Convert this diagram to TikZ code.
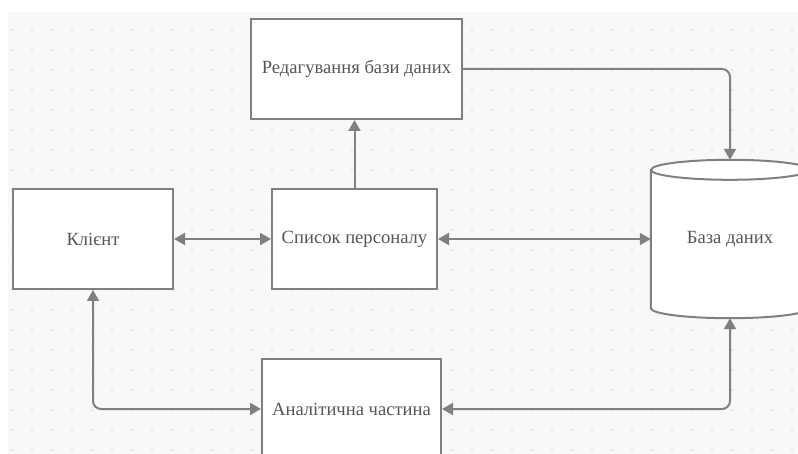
\documentclass[tikz,border=0pt]{standalone}
\usepackage{fontspec}
\setmainfont{Liberation Serif}
\usetikzlibrary{arrows.meta}
\definecolor{canvas}{HTML}{F8F8FA}
\definecolor{griddot}{HTML}{DDDDE0}
\definecolor{edge}{HTML}{808080}
\definecolor{label}{HTML}{555555}
\tikzset{
  block/.style={draw=edge, line width=2pt, fill=white, text=label,
    font=\fontsize{18.6}{22}\selectfont, inner sep=0pt},
  link/.style={draw=edge, line width=2pt, rounded corners=8pt,
    -{Triangle[length=11pt,width=12pt]}},
  duplex/.style={link, {Triangle[length=11pt,width=12pt]}-{Triangle[length=11pt,width=12pt]}},
}
\begin{document}
\begin{tikzpicture}[x=1pt,y=-1pt]
\useasboundingbox (0,0) rectangle (798,454);
\clip (0,0) rectangle (798,454);
% dotted canvas
\fill[canvas] (8,12) rectangle (798,454);
\foreach \i in {0,...,39}
  \foreach \j in {0,...,21}
    \fill[griddot] (12+20*\i,30+20*\j) circle[radius=1.1pt];

% blocks
\node[block, minimum width=211pt, minimum height=100pt] (edit) at (356.5,69) {Редагування бази даних};
\node[block, minimum width=160pt, minimum height=100pt] (client) at (93,239) {Клієнт};
\node[block, minimum width=165pt, minimum height=100pt] (staff) at (354.5,239) {Список персоналу};
\node[block, minimum width=179pt, minimum height=100pt] (anal) at (351.5,409) {Аналітична частина};

% database cylinder
\node[minimum width=158pt, minimum height=158pt, inner sep=0pt] (db) at (730,239) {};
\path[draw=edge, line width=2pt, fill=white]
  ([yshift=-10pt]db.north west) -- ([yshift=10pt]db.south west)
  arc[start angle=180, end angle=360, x radius=79pt, y radius=10pt]
  -- ([yshift=-10pt]db.north east)
  arc[start angle=0, end angle=180, x radius=79pt, y radius=10pt] -- cycle;
\draw[edge, line width=2pt] ([yshift=-10pt]db.north west)
  arc[start angle=180, end angle=360, x radius=79pt, y radius=10pt];
\node[text=label, font=\fontsize{18.6}{22}\selectfont] at (db.center) {База даних};

% connectors
\draw[link] (staff.north) -- (staff.north |- edit.south);
\draw[link] (edit.east) -| (db.north);
\draw[duplex] (client.east) -- (staff.west);
\draw[duplex] (staff.east) -- (db.west);
\draw[duplex] (client.south) |- (anal.west);
\draw[duplex] (anal.east) -| (db.south);
\end{tikzpicture}
\end{document}
